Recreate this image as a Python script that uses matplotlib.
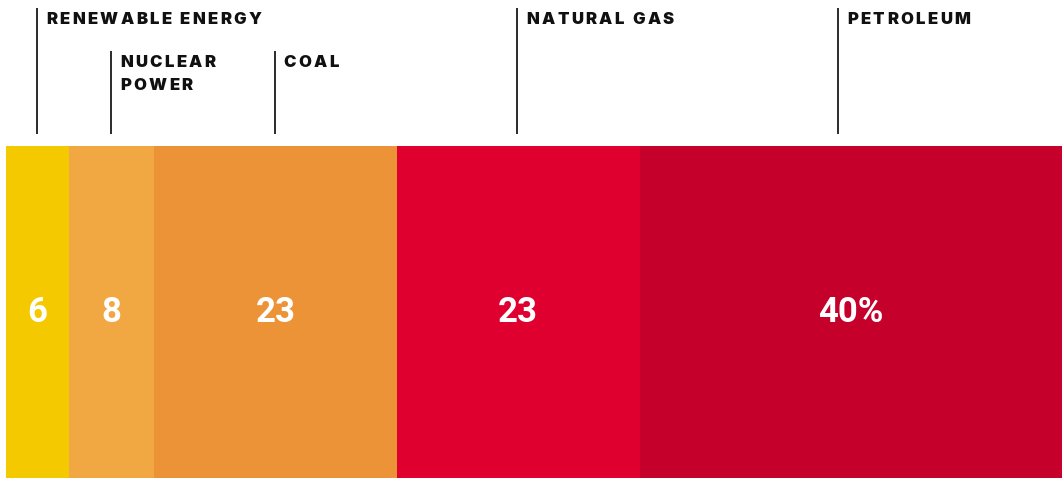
import matplotlib
matplotlib.use('Agg')
import matplotlib.pyplot as plt
import matplotlib.transforms as mtransforms
import numpy as np

# share of US energy consumption by source (%)
sources = ['RENEWABLE ENERGY', 'NUCLEAR\nPOWER', 'COAL', 'NATURAL GAS', 'PETROLEUM']
shares = [6, 8, 23, 23, 40]
value_labels = ['6', '8', '23', '23', '40%']
colors = ['#F4C900', '#F1A843', '#EC9338', '#E0002F', '#C4002B']

# layout (pixels from top of figure)
W, H = 1062, 478
left_px = 6
bar_top, bar_bot = 146, 478
leader_top = [8, 51, 51, 8, 8]
leader_bot = 134
label_font = dict(family='Inter', fontweight='black', fontsize=12, color='#111111')
value_font = dict(family='Roboto', fontweight='bold', fontsize=25, color='white')

fig = plt.figure(figsize=(W / 100, H / 100), dpi=100)
ax = fig.add_axes([0, 0, 1, 1])
scale = (W - left_px) / sum(shares)
ax.set_xlim(-left_px / scale, sum(shares))
ax.set_ylim(H, 0)
ax.axis('off')

lefts = np.cumsum([0] + shares[:-1])
ax.barh((bar_top + bar_bot) / 2, shares, left=lefts, height=bar_bot - bar_top,
        color=colors, linewidth=0)

renderer = fig.canvas.get_renderer()


def text_width(s, **kw):
    t = ax.text(0, 0, s, **kw)
    w = t.get_window_extent(renderer=renderer).width
    t.remove()
    return w


def spaced(x, y, s, gap, dx0=9):
    # matplotlib has no letter-spacing, so place the letters one by one
    for i, ch in enumerate(s):
        if ch == ' ':
            continue
        off = text_width(s[:i + 1], **label_font) - text_width(ch, **label_font) if i else 0
        tr = mtransforms.offset_copy(ax.transData, fig=fig, x=dx0 + off + i * gap, y=0, units='dots')
        ax.text(x, y, ch, transform=tr, ha='left', va='baseline', **label_font)


for i in range(len(shares)):
    cx = lefts[i] + shares[i] / 2
    lab = value_labels[i]
    ax.text(cx, 322, lab, ha='center', va='baseline', **value_font)
    # leader sits over the number, not the % sign
    num = lab.rstrip('%')
    if num != lab:
        lx = cx - (text_width(lab, **value_font) - text_width(num, **value_font)) / 2 / scale
    else:
        lx = cx - 0.07
    ax.plot([lx, lx], [leader_top[i], leader_bot], color='#1a1a1a', lw=1.3, solid_capstyle='butt')
    for j, line in enumerate(sources[i].split('\n')):
        spaced(lx, leader_top[i] + 16 + j * 23, line, 2.4)

fig.savefig('out.png', dpi=100)
